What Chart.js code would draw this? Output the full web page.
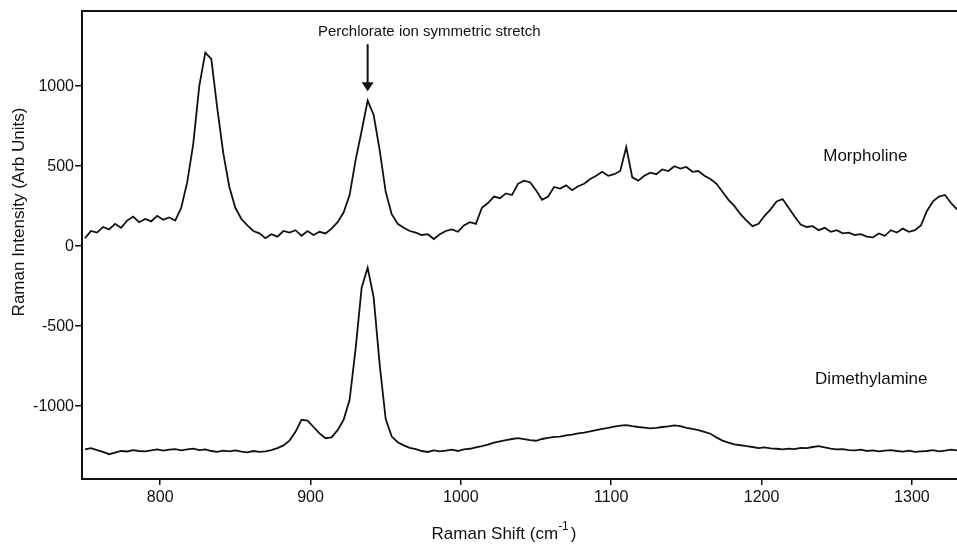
<!DOCTYPE html>
<html>
<head>
<meta charset="utf-8">
<script src="https://cdn.jsdelivr.net/npm/chart.js@4.4.1/dist/chart.umd.min.js"></script>
<style>
  html, body { margin: 0; padding: 0; background: #fff; }
  #wrap { width: 957px; height: 546px; }
</style>
</head>
<body>
<div id="wrap"><canvas id="chart" width="957" height="546"></canvas></div>
<script>
// Raman shift (cm-1)
const shiftCm = [
  750, 754, 758, 762, 766, 770, 774, 778, 782, 786,
  790, 794, 798, 802, 806, 810, 814, 818, 822, 826,
  830, 834, 838, 842, 846, 850, 854, 858, 862, 866,
  870, 874, 878, 882, 886, 890, 894, 898, 902, 906,
  910, 914, 918, 922, 926, 930, 934, 938, 942, 946,
  950, 954, 958, 962, 966, 970, 974, 978, 982, 986,
  990, 994, 998, 1002, 1006, 1010, 1014, 1018, 1022, 1026,
  1030, 1034, 1038, 1042, 1046, 1050, 1054, 1058, 1062, 1066,
  1070, 1074, 1078, 1082, 1086, 1090, 1094, 1098, 1102, 1106,
  1110, 1114, 1118, 1122, 1126, 1130, 1134, 1138, 1142, 1146,
  1150, 1154, 1158, 1162, 1166, 1170, 1174, 1178, 1182, 1186,
  1190, 1194, 1198, 1202, 1206, 1210, 1214, 1218, 1222, 1226,
  1230, 1234, 1238, 1242, 1246, 1250, 1254, 1258, 1262, 1266,
  1270, 1274, 1278, 1282, 1286, 1290, 1294, 1298, 1302, 1306,
  1310, 1314, 1318, 1322, 1326, 1330
];

const morpholine = [
  50, 95, 85, 120, 105, 140, 115, 160, 185, 150,
  170, 155, 190, 165, 180, 160, 240, 400, 640, 1000,
  1210, 1170, 860, 580, 370, 240, 170, 130, 95, 80,
  50, 75, 60, 95, 85, 100, 65, 95, 70, 90,
  80, 110, 150, 210, 320, 540, 720, 910, 820, 600,
  340, 200, 140, 115, 95, 85, 70, 75, 45, 75,
  95, 105, 90, 130, 150, 140, 240, 270, 310, 300,
  330, 320, 390, 410, 400, 350, 290, 310, 370, 360,
  380, 350, 375, 390, 420, 440, 465, 440, 450, 470,
  620, 430, 410, 440, 460, 450, 480, 470, 500, 485,
  495, 465, 470, 440, 420, 390, 340, 290, 250, 200,
  160, 125, 140, 190, 230, 280, 295, 240, 185, 135,
  120, 125, 100, 115, 90, 100, 80, 85, 70, 75,
  60, 55, 80, 65, 100, 85, 110, 90, 100, 130,
  220, 280, 310, 320, 270, 230
];

const dimethylamine = [
  -1270, -1262, -1275, -1285, -1300, -1290, -1280, -1283, -1275, -1280,
  -1282, -1276, -1270, -1278, -1272, -1268, -1276, -1270, -1265, -1275,
  -1270, -1280, -1285, -1278, -1282, -1276, -1284, -1288, -1280, -1286,
  -1282, -1275, -1262, -1245, -1215, -1160, -1085, -1090, -1130, -1170,
  -1200, -1195, -1150, -1085, -960, -640, -260, -135, -320, -740,
  -1080, -1190, -1225, -1245, -1260, -1268, -1280, -1286, -1276, -1282,
  -1278, -1272, -1280, -1270, -1266, -1258, -1250, -1240, -1228, -1220,
  -1212, -1205, -1200, -1206, -1212, -1216, -1205, -1198, -1192, -1190,
  -1182, -1178, -1170, -1165, -1158, -1150, -1142, -1136, -1128, -1122,
  -1118, -1125, -1130, -1134, -1138, -1135, -1130, -1126, -1120, -1125,
  -1135, -1142, -1150, -1160, -1172, -1195, -1215, -1228, -1238, -1244,
  -1250, -1255, -1262, -1258, -1264, -1266, -1270, -1265, -1268, -1260,
  -1262, -1255, -1250, -1258, -1265, -1270, -1268, -1274, -1276, -1272,
  -1280, -1276, -1282, -1278, -1274, -1280, -1284, -1278, -1286, -1282,
  -1280, -1275, -1282, -1278, -1272, -1276
];

const seriesNames = ['Morpholine', 'Dimethylamine'];
const xTicks = [800, 900, 1000, 1100, 1200, 1300];
const yTicks = [-1000, -500, 0, 500, 1000];

const FONT = "'Liberation Sans', Arial, sans-serif";

function toPoints(ys) {
  return shiftCm.map((x, i) => ({ x, y: ys[i] }));
}

// text, arrow, top frame and axis titles
const decorations = {
  id: 'decorations',
  afterDraw(chart) {
    const { ctx, chartArea, scales } = chart;
    const xs = scales.x, ys = scales.y;
    ctx.save();
    ctx.fillStyle = '#111';
    ctx.strokeStyle = '#111';

    // top frame line
    ctx.lineWidth = 2;
    ctx.beginPath();
    ctx.moveTo(chartArea.left, chartArea.top);
    ctx.lineTo(chartArea.right, chartArea.top);
    ctx.stroke();

    // series labels
    ctx.font = '17px ' + FONT;
    ctx.textAlign = 'center';
    ctx.textBaseline = 'middle';
    ctx.fillText(seriesNames[0], xs.getPixelForValue(1269), ys.getPixelForValue(562));
    ctx.fillText(seriesNames[1], xs.getPixelForValue(1273), ys.getPixelForValue(-831));

    // annotation + arrow pointing at the perchlorate peak
    ctx.font = '15px ' + FONT;
    ctx.fillText('Perchlorate ion symmetric stretch', xs.getPixelForValue(979), ys.getPixelForValue(1337));
    const ax = xs.getPixelForValue(938);
    const y0 = ys.getPixelForValue(1262);
    const tip = ys.getPixelForValue(969);
    ctx.lineWidth = 2;
    ctx.beginPath();
    ctx.moveTo(ax, y0);
    ctx.lineTo(ax, tip - 6);
    ctx.stroke();
    ctx.beginPath();
    ctx.moveTo(ax - 6, tip - 9);
    ctx.lineTo(ax + 6, tip - 9);
    ctx.lineTo(ax, tip);
    ctx.closePath();
    ctx.fill();

    // y axis title
    ctx.font = '17px ' + FONT;
    ctx.save();
    ctx.translate(19, 212);
    ctx.rotate(-Math.PI / 2);
    ctx.fillText('Raman Intensity (Arb Units)', 0, 0);
    ctx.restore();

    // x axis title with superscript
    const main = 'Raman Shift (cm';
    const sup = '-1';
    const close = ')';
    ctx.font = '17px ' + FONT;
    const wMain = ctx.measureText(main).width;
    const wClose = ctx.measureText(close).width;
    ctx.font = '12px ' + FONT;
    const wSup = ctx.measureText(sup).width;
    const total = wMain + wSup + 2 + wClose;
    let cx = 504 - total / 2;
    const cy = 534;
    ctx.textAlign = 'left';
    ctx.font = '17px ' + FONT;
    ctx.fillText(main, cx, cy);
    cx += wMain;
    ctx.font = '12px ' + FONT;
    ctx.fillText(sup, cx, cy - 7);
    cx += wSup + 2;
    ctx.font = '17px ' + FONT;
    ctx.fillText(close, cx, cy);
    ctx.restore();
  }
};

const lineStyle = {
  borderColor: '#111',
  borderWidth: 1.8,
  pointRadius: 0,
  tension: 0,
  fill: false
};

new Chart(document.getElementById('chart'), {
  type: 'line',
  data: {
    datasets: [
      { label: seriesNames[0], data: toPoints(morpholine), ...lineStyle },
      { label: seriesNames[1], data: toPoints(dimethylamine), ...lineStyle }
    ]
  },
  options: {
    responsive: false,
    animation: false,
    layout: { padding: { top: 11, right: 0, left: 0, bottom: 0 } },
    plugins: {
      legend: { display: false },
      tooltip: { enabled: false }
    },
    scales: {
      x: {
        type: 'linear',
        min: 748,
        max: 1330,
        afterFit: (s) => { s.height = 67; },
        afterBuildTicks: (s) => { s.ticks = xTicks.map(v => ({ value: v })); },
        ticks: {
          maxRotation: 0,
          autoSkip: false,
          padding: 3,
          color: '#111',
          font: { family: FONT, size: 16 },
          callback: (v) => String(v)
        },
        grid: { drawOnChartArea: false, drawTicks: true, tickLength: 6, color: '#111', lineWidth: 1.5 },
        border: { color: '#111', width: 2 }
      },
      y: {
        min: -1455,
        max: 1470,
        afterFit: (s) => { s.width = 82; },
        afterBuildTicks: (s) => { s.ticks = yTicks.map(v => ({ value: v })); },
        ticks: {
          autoSkip: false,
          padding: 1,
          color: '#111',
          font: { family: FONT, size: 16 },
          callback: (v) => String(v)
        },
        grid: { drawOnChartArea: false, drawTicks: true, tickLength: 7, color: '#111', lineWidth: 1.5 },
        border: { color: '#111', width: 2 }
      }
    }
  },
  plugins: [decorations]
});
</script>
</body>
</html>
